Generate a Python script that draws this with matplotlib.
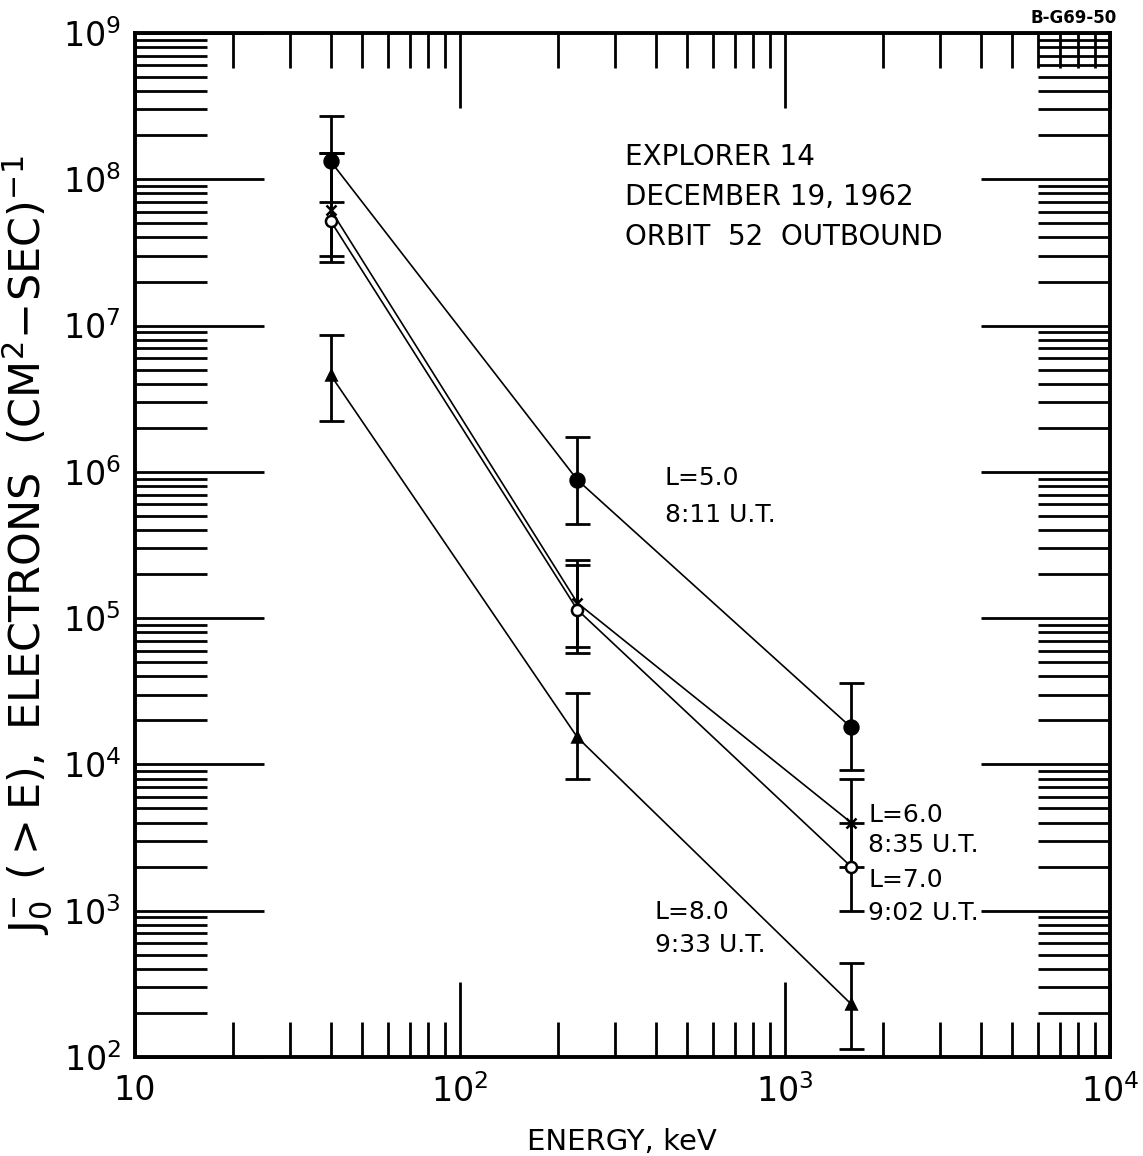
import math
import matplotlib
matplotlib.use('Agg')
import matplotlib.pyplot as plt
from matplotlib.ticker import LogLocator, FuncFormatter, NullFormatter

# energies (keV) of the three channels
energy = [40, 230, 1600]

# L = 5.0, 8:11 U.T.  (filled circles)
flux_l5 = [1.33e8, 8.8e5, 1.79e4]
lo_l5 = [7.0e7, 4.4e5, 9.2e3]
hi_l5 = [2.7e8, 1.74e6, 3.6e4]

# L = 6.0, 8:35 U.T.  (stars)
flux_l6 = [6.2e7, 1.27e5, 4.0e3]
lo_l6 = [3.0e7, 6.4e4, 2.0e3]
hi_l6 = [1.5e8, 2.5e5, 7.9e3]

# L = 7.0, 9:02 U.T.  (open circles)
flux_l7 = [5.2e7, 1.14e5, 2.0e3]
lo_l7 = [2.7e7, 5.8e4, 1.0e3]
hi_l7 = [1.5e8, 2.3e5, 4.0e3]

# L = 8.0, 9:33 U.T.  (triangles)
flux_l8 = [4.6e6, 1.53e4, 2.3e2]
lo_l8 = [2.24e6, 7.9e3, 1.13e2]
hi_l8 = [8.6e6, 3.1e4, 4.4e2]

fig = plt.figure(figsize=(11.43, 11.56), dpi=100)
ax = fig.add_axes([0.118, 0.0856, 0.853, 0.8859])


def draw(flux, lo, hi, marker, face, ms):
    yerr = [[f - l for f, l in zip(flux, lo)], [h - f for f, h in zip(flux, hi)]]
    ax.errorbar(energy, flux, yerr=yerr, fmt='none', ecolor='black',
                elinewidth=2.0, capsize=9, capthick=2.0, zorder=2)
    ax.plot(energy, flux, color='black', lw=1.2, zorder=3)
    ax.plot(energy, flux, linestyle='none', marker=marker, ms=ms,
            markerfacecolor=face, markeredgecolor='black', markeredgewidth=1.8, zorder=4)


draw(flux_l5, lo_l5, hi_l5, 'o', 'black', 10)
draw(flux_l6, lo_l6, hi_l6, 'x', 'black', 7)
draw(flux_l7, lo_l7, hi_l7, 'o', 'white', 8)
draw(flux_l8, lo_l8, hi_l8, '^', 'black', 7)

ax.set_xscale('log')
ax.set_yscale('log')
ax.set_xlim(10, 1e4)
ax.set_ylim(1e2, 1e9)

for s in ax.spines.values():
    s.set_linewidth(2.8)

ax.xaxis.set_major_locator(LogLocator(base=10, numticks=10))
ax.xaxis.set_minor_locator(LogLocator(base=10, subs=range(2, 10), numticks=20))
ax.yaxis.set_major_locator(LogLocator(base=10, numticks=12))
ax.yaxis.set_minor_locator(LogLocator(base=10, subs=range(2, 10), numticks=30))
ax.xaxis.set_minor_formatter(NullFormatter())
ax.yaxis.set_minor_formatter(NullFormatter())


def fmt(v, pos):
    e = int(round(math.log10(v)))
    if e == 1:
        return '10'
    return r'$\mathregular{10^{%d}}$' % e


ax.xaxis.set_major_formatter(FuncFormatter(fmt))
ax.yaxis.set_major_formatter(FuncFormatter(fmt))

ax.tick_params(axis='both', which='both', direction='in', top=True, right=True,
               colors='black', labelsize=24)
ax.tick_params(axis='x', which='major', length=54, width=2.0, pad=12)
ax.tick_params(axis='x', which='minor', length=25, width=2.0)
ax.tick_params(axis='y', which='major', length=93, width=2.0, pad=10)
ax.tick_params(axis='y', which='minor', length=52, width=2.0)

ax.set_xlabel('ENERGY, keV', fontsize=21, labelpad=14)
ax.set_ylabel(r'$\mathregular{J_0^{-}\ (>E),\ ELECTRONS\ \ (CM^{2}\!-\!SEC)^{-1}}$',
              fontsize=31, labelpad=6)

tk = dict(transform=ax.transAxes, fontsize=20, va='center', ha='left')
ax.text(0.5026, 0.879, 'EXPLORER 14', **tk)
ax.text(0.5026, 0.840, 'DECEMBER 19, 1962', **tk)
ax.text(0.5026, 0.801, 'ORBIT  52  OUTBOUND', **tk)

lk = dict(transform=ax.transAxes, fontsize=18, va='center', ha='left')
ax.text(0.5436, 0.565, 'L=5.0', **lk)
ax.text(0.5436, 0.529, '8:11 U.T.', **lk)
ax.text(0.752, 0.236, 'L=6.0', **lk)
ax.text(0.752, 0.207, '8:35 U.T.', **lk)
ax.text(0.752, 0.173, 'L=7.0', **lk)
ax.text(0.752, 0.141, '9:02 U.T.', **lk)
ax.text(0.533, 0.1416, 'L=8.0', **lk)
ax.text(0.533, 0.109, '9:33 U.T.', **lk)

fig.text(0.977, 0.984, 'B-G69-50', fontsize=12, fontweight='bold', ha='right', va='center')

fig.savefig('out.png', dpi=100, facecolor='white')
